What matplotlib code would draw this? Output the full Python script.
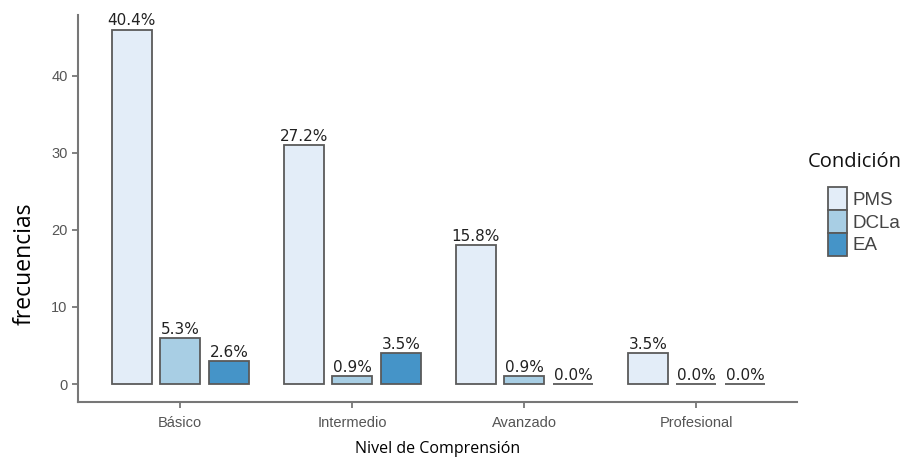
import matplotlib
matplotlib.use("Agg")
import matplotlib.pyplot as plt
from matplotlib.patches import Patch
import numpy as np

categories = ["Básico", "Intermedio", "Avanzado", "Profesional"]
series = ["PMS", "DCLa", "EA"]
pms = [46, 31, 18, 4]
dcla = [6, 1, 1, 0]
ea = [3, 4, 0, 0]
pms_labels = ["40.4%", "27.2%", "15.8%", "3.5%"]
dcla_labels = ["5.3%", "0.9%", "0.9%", "0.0%"]
ea_labels = ["2.6%", "3.5%", "0.0%", "0.0%"]
yticks = [0, 10, 20, 30, 40]

colors = ["#e3edf8", "#a8cee4", "#4594c8"]
edge = "#5a5a5a"

fig = plt.figure(figsize=(9.09, 4.67), dpi=100)
ax = fig.add_axes([0.0858, 0.139, 0.791, 0.829])

x = np.arange(len(categories))
offs = [-0.28, 0.0, 0.285]
width = 0.232
for vals, labs, off, c in zip([pms, dcla, ea], [pms_labels, dcla_labels, ea_labels], offs, colors):
    bars = ax.bar(x + off, vals, width=width, color=c, edgecolor=edge, linewidth=1.3)
    for b, v, l in zip(bars, vals, labs):
        ax.text(b.get_x() + b.get_width() / 2, v + 0.15, l, ha="center", va="bottom",
                fontsize=11, family="DejaVu Sans", color="#222222")

ax.set_xlim(-0.593, 3.587)
ax.set_ylim(-2.34, 47.9)
ax.set_xticks(x)
ax.set_xticklabels(categories, family="Liberation Sans", fontsize=10.5, color="#555555")
ax.set_yticks(yticks)
ax.set_yticklabels([str(t) for t in yticks], family="Liberation Sans", fontsize=10.5, color="#555555")
for s in ["top", "right"]:
    ax.spines[s].set_visible(False)
for s in ["left", "bottom"]:
    ax.spines[s].set_color("#777777")
    ax.spines[s].set_linewidth(1.5)
ax.tick_params(axis="both", color="#777777", width=1.3, length=4)
ax.tick_params(axis="x", pad=6)

ax.set_ylabel("frecuencias", family="Open Sans", fontsize=16.5)
ax.yaxis.set_label_coords(-0.057, 0.357)
ax.set_xlabel("Nivel de Comprensión", family="Open Sans", fontsize=11.5, labelpad=8)

fig.text(808 / 909, 1 - 162 / 467, "Condición", family="Open Sans", fontsize=14.5,
         ha="left", va="center", color="#111111")
handles = [Patch(facecolor=c, edgecolor=edge, linewidth=1.3) for c in colors]
leg = fig.legend(handles, series, loc="upper left", bbox_to_anchor=(828 / 909, 1 - 187 / 467),
                 frameon=False, labelspacing=0.0, borderpad=0, borderaxespad=0,
                 handlelength=1.0, handleheight=1.5, handletextpad=0.3,
                 prop={"family": "Liberation Sans", "size": 13.5})
for t in leg.get_texts():
    t.set_color("#444444")

fig.savefig("out.png", dpi=100)
